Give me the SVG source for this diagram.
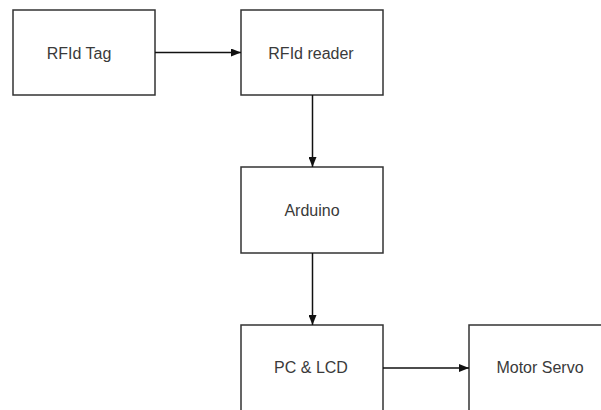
<svg xmlns="http://www.w3.org/2000/svg" width="601" height="410" viewBox="0 0 601 410">
<style>
.box{fill:#fff;stroke:#333;stroke-width:1.5}
.lbl{font-family:"Liberation Sans",Arial,sans-serif;font-size:16px;fill:#3a3a3a;text-anchor:middle;dominant-baseline:central}
.con{stroke:#111;stroke-width:1.5;fill:none;marker-end:url(#ah)}
</style>
<defs>
<marker id="ah" markerWidth="10" markerHeight="8" refX="10" refY="4" orient="auto" markerUnits="userSpaceOnUse">
<path d="M0,0 L10,4 L0,8 z" fill="#111"/>
</marker>
</defs>
<rect width="601" height="410" fill="#fff"/>
<g id="tag"><rect class="box" x="13" y="10" width="142" height="85"/><text class="lbl" x="79" y="53">RFId Tag</text></g>
<g id="reader"><rect class="box" x="241" y="10" width="142" height="85"/><text class="lbl" x="311" y="53">RFId reader</text></g>
<g id="arduino"><rect class="box" x="241" y="167" width="142" height="86"/><text class="lbl" x="312" y="210">Arduino</text></g>
<g id="pc"><rect class="box" x="241" y="325" width="142" height="100"/><text class="lbl" x="311" y="367">PC &amp; LCD</text></g>
<g id="servo"><rect class="box" x="469" y="325" width="150" height="100"/><text class="lbl" x="540" y="367">Motor Servo</text></g>
<g id="connectors">
<line class="con" x1="155" y1="52.5" x2="241" y2="52.5"/>
<line class="con" x1="312.5" y1="95" x2="312.5" y2="167"/>
<line class="con" x1="312.5" y1="253" x2="312.5" y2="325"/>
<line class="con" x1="383" y1="368" x2="469" y2="368"/>
</g>
</svg>
